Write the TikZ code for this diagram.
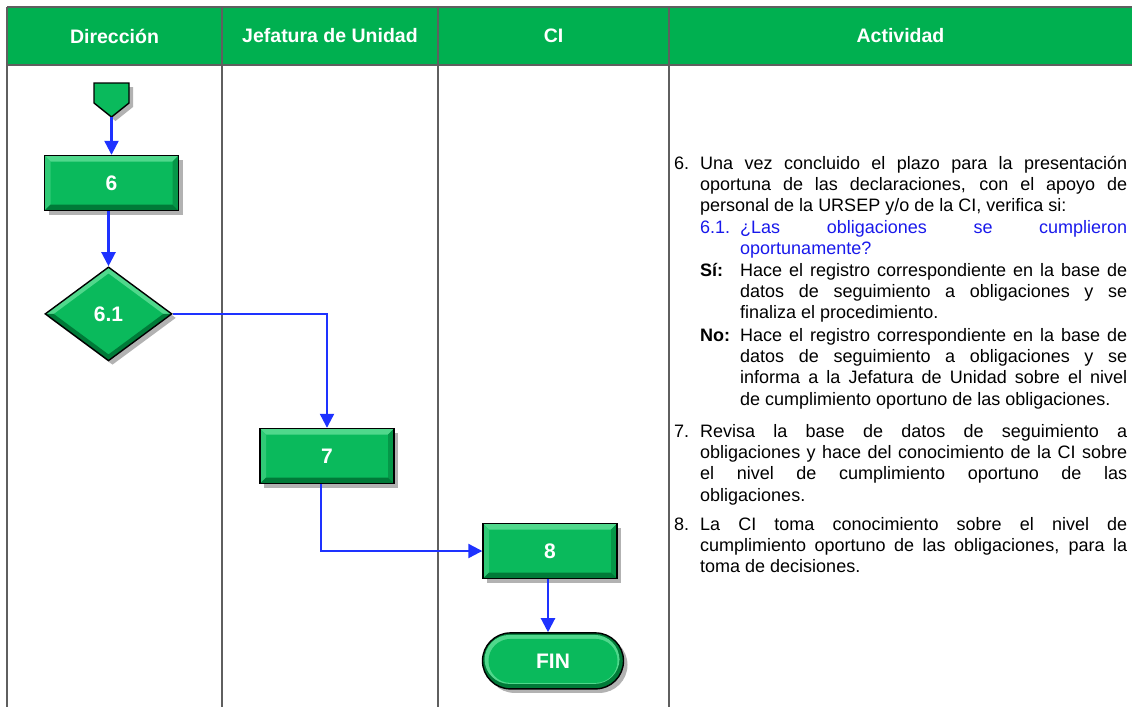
\documentclass[tikz,border=0pt]{standalone}
\usepackage{fontspec}
\setmainfont{Liberation Sans}
\usetikzlibrary{positioning,calc}
\usetikzlibrary{arrows.meta}
\usetikzlibrary{shapes.geometric}
\usetikzlibrary{shadows}

\definecolor{headgreen}{RGB}{0,176,80}
\definecolor{boxgreen}{RGB}{10,186,92}
\definecolor{boxlight}{RGB}{80,216,140}
\definecolor{boxdark}{RGB}{0,122,56}
\definecolor{flowblue}{RGB}{30,50,255}
\definecolor{textblue}{RGB}{25,25,235}
\definecolor{gridgray}{RGB}{95,95,95}

\hyphenpenalty=10000
\newcommand{\bodyfont}{\fontsize{18}{21.4}\selectfont}

% bevel of the process boxes
\newcommand{\boxbevel}{%
  \coordinate (bnw) at (path picture bounding box.north west);
  \coordinate (bne) at (path picture bounding box.north east);
  \coordinate (bsw) at (path picture bounding box.south west);
  \coordinate (bse) at (path picture bounding box.south east);
  \fill[boxlight] (bnw) -- (bne) -- ([shift={(-6pt,-6pt)}]bne) -- ([shift={(6pt,-6pt)}]bnw) -- cycle;
  \fill[boxlight!55!boxgreen] (bnw) -- (bsw) -- ([shift={(6pt,6pt)}]bsw) -- ([shift={(6pt,-6pt)}]bnw) -- cycle;
  \fill[boxdark!55!boxgreen] (bne) -- (bse) -- ([shift={(-6pt,6pt)}]bse) -- ([shift={(-6pt,-6pt)}]bne) -- cycle;
  \fill[boxdark] (bsw) -- (bse) -- ([shift={(-6pt,6pt)}]bse) -- ([shift={(6pt,6pt)}]bsw) -- cycle;
}
% bevel of the decision
\newcommand{\diamondbevel}{%
  \coordinate (bn) at (path picture bounding box.north);
  \coordinate (bs) at (path picture bounding box.south);
  \coordinate (bw) at (path picture bounding box.west);
  \coordinate (be) at (path picture bounding box.east);
  \fill[boxlight] (bw) -- (bn) -- (be) -- ([xshift=-8.4pt]be) -- ([yshift=-6.2pt]bn) -- ([xshift=8.4pt]bw) -- cycle;
  \fill[boxdark] (bw) -- (bs) -- (be) -- ([xshift=-8.4pt]be) -- ([yshift=6.2pt]bs) -- ([xshift=8.4pt]bw) -- cycle;
}
% bevel of the terminal
\newcommand{\termbevel}{%
  \fill[boxdark] (path picture bounding box.south west) rectangle (path picture bounding box.north east);
  \fill[boxlight, rounded corners=25pt] ([shift={(2pt,-2pt)}]path picture bounding box.north west)
    rectangle ([shift={(-4pt,5pt)}]path picture bounding box.south east);
  \fill[boxgreen, rounded corners=22pt] ([shift={(6pt,-6pt)}]path picture bounding box.north west)
    rectangle ([shift={(-6pt,6pt)}]path picture bounding box.south east);
}

\tikzset{
  boxshadow/.style={drop shadow={shadow xshift=4pt, shadow yshift=-4pt, opacity=0.3, fill=black}},
  head/.style={text=white, font=\fontsize{19.5}{22}\selectfont\bfseries},
  stepbox/.style={rectangle, fill=boxgreen, draw=black, line width=1.4pt, boxshadow,
    minimum width=134pt, minimum height=55pt, inner sep=0pt, text=white,
    font=\fontsize{21}{24}\selectfont\bfseries, path picture={\boxbevel}},
  decbox/.style={diamond, fill=boxgreen, draw=black, line width=1.4pt, boxshadow,
    minimum width=127pt, minimum height=94pt, inner sep=0pt, text=white,
    font=\fontsize{21}{24}\selectfont\bfseries, path picture={\diamondbevel}},
  endbox/.style={rectangle, rounded corners=28pt, fill=boxgreen, draw=black, line width=1.4pt,
    boxshadow, minimum width=141pt, minimum height=56pt, inner sep=0pt, text=white,
    font=\fontsize{21}{24}\selectfont\bfseries, path picture={\termbevel}},
  flowline/.style={draw=flowblue, line width=2.2pt, -{Triangle[length=14pt,width=14pt]}},
  num/.style={anchor=base west, inner sep=0pt, font=\bodyfont},
  txt/.style={anchor=base west, inner sep=0pt, font=\bodyfont, text width=427pt, align=justify},
  subtxt/.style={txt, text width=387pt}
}

\begin{document}
\begin{tikzpicture}[x=1pt,y=-1pt]
  \useasboundingbox (0,0) rectangle (1132,707);

  % header and lanes
  \fill[headgreen] (7,7) rectangle (1132,65);
  \draw[gridgray, line width=1.5pt] (7,7) -- (1132,7);
  \draw[gridgray, line width=1.5pt] (7,65) -- (1132,65);
  \foreach \x in {7,222,438,669}
    \draw[gridgray, line width=1.5pt] (\x,7) -- (\x,707);

  \node[head] (h1) at (114.5,36) {Dirección};
  \node[head] (h2) at (330,36)   {Jefatura de Unidad};
  \node[head] (h3) at (553.5,36) {CI};
  \node[head] (h4) at (900.5,36) {Actividad};

  % off-page connector
  \filldraw[fill=boxgreen, draw=black, line width=1.4pt, boxshadow]
    (94,83) -- (129,83) -- (129,103) -- (111.5,117) -- (94,103) -- cycle;
  \coordinate (d0) at (111.5,117);

  % Direccion
  \node[stepbox]                                (d1) at (111.5,183) {6};
  \node[decbox, below=55pt of d1, xshift=-3pt]  (d2) {6.1};

  % Jefatura de Unidad
  \node[stepbox]                                (j1) at (327,456) {7};

  % CI
  \node[stepbox]                                (c1) at (550,551) {8};
  \node[endbox, below=53pt of c1, xshift=3pt]   (c2) {FIN};

  \draw[flowline] (d0) -- (d1);
  \draw[flowline] (d1.south -| d2.north) -- (d2.north);
  \draw[flowline] (d2.east) -| (j1.north);
  \draw[flowline] ([xshift=-6pt]j1.south) |- (c1.west);
  \draw[flowline] ([xshift=-2pt]c1.south) -- ([xshift=-5pt]c2.north);

  % activity texts
  \node[num] (a6n) at (674,169) {6.};
  \node[txt] (a6)  at (700,169) {Una vez concluido el plazo para la presentación\linebreak
    oportuna de las declaraciones, con el apoyo de\linebreak
    personal de la URSEP y/o de la CI, verifica si:};

  \node[num, text=textblue] (a61n) at (700,233) {6.1.};
  \node[subtxt, text=textblue] (a61) at (740,233) {¿Las obligaciones se cumplieron\linebreak
    oportunamente?};

  \node[num, font=\bodyfont\bfseries] (asin) at (700,276) {Sí:};
  \node[subtxt] (asi) at (740,276) {Hace el registro correspondiente en la base de\linebreak
    datos de seguimiento a obligaciones y se\linebreak
    finaliza el procedimiento.};

  \node[num, font=\bodyfont\bfseries] (anon) at (700,341) {No:};
  \node[subtxt] (ano) at (740,341) {Hace el registro correspondiente en la base de\linebreak
    datos de seguimiento a obligaciones y se\linebreak
    informa a la Jefatura de Unidad sobre el nivel\linebreak
    de cumplimiento oportuno de las obligaciones.};

  \node[num] (a7n) at (674,437) {7.};
  \node[txt] (a7)  at (700,437) {Revisa la base de datos de seguimiento a\linebreak
    obligaciones y hace del conocimiento de la CI sobre\linebreak
    el nivel de cumplimiento oportuno de las\linebreak
    obligaciones.};

  \node[num] (a8n) at (674,530) {8.};
  \node[txt] (a8)  at (700,530) {La CI toma conocimiento sobre el nivel de\linebreak
    cumplimiento oportuno de las obligaciones, para la\linebreak
    toma de decisiones.};
\end{tikzpicture}
\end{document}
